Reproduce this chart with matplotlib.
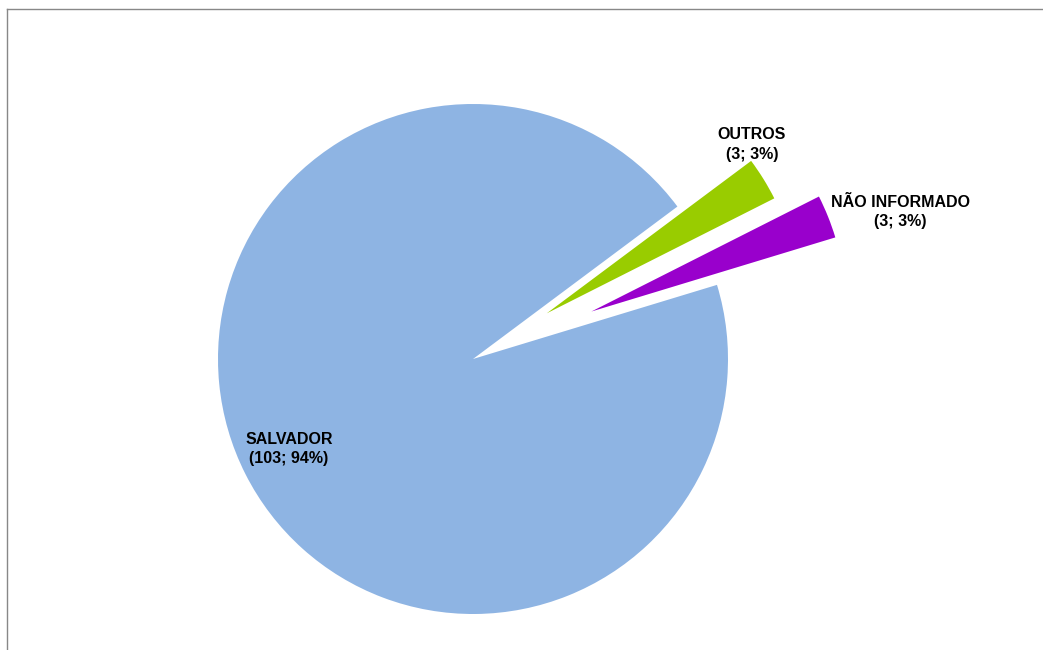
import matplotlib.pyplot as plt
from matplotlib.lines import Line2D

# origem dos casos
categorias = ['SALVADOR', 'OUTROS', 'NÃO INFORMADO']
casos = [103, 3, 3]
cores = ['#8EB4E3', '#99CC00', '#9900CC']
destaque = [0, 0.34, 0.50]

plt.rcParams['font.family'] = ['Liberation Sans', 'DejaVu Sans']

fig = plt.figure(figsize=(10.43, 6.5), dpi=100)
ax = fig.add_axes([0, 0, 1, 1])

ax.pie(casos, colors=cores, explode=destaque, startangle=16.9,
       counterclock=False, radius=1.0, center=(0, 0),
       wedgeprops={'linewidth': 0})

ax.set_xlim(-473 / 255, (1043 - 473) / 255)
ax.set_ylim(-291 / 255, 359 / 255)
ax.set_aspect('equal')
ax.axis('off')

total = sum(casos)
pos_rotulos = [(-0.722, -0.353), (1.094, 0.841), (1.675, 0.578)]
for nome, n, (x, y) in zip(categorias, casos, pos_rotulos):
    pct = round(100 * n / total)
    ax.text(x, y, f'{nome}\n({n}; {pct}%)', ha='center', va='center',
            fontsize=11.5, fontweight='bold', color='black', linespacing=1.35)

# moldura da área do gráfico (apenas topo e esquerda visíveis)
fig.add_artist(Line2D([7 / 1043, 1.0], [1 - 9 / 650, 1 - 9 / 650],
                      transform=fig.transFigure, color='#888888', lw=1))
fig.add_artist(Line2D([7 / 1043, 7 / 1043], [0, 1 - 9 / 650],
                      transform=fig.transFigure, color='#888888', lw=1))

fig.savefig('out.png', dpi=100)
